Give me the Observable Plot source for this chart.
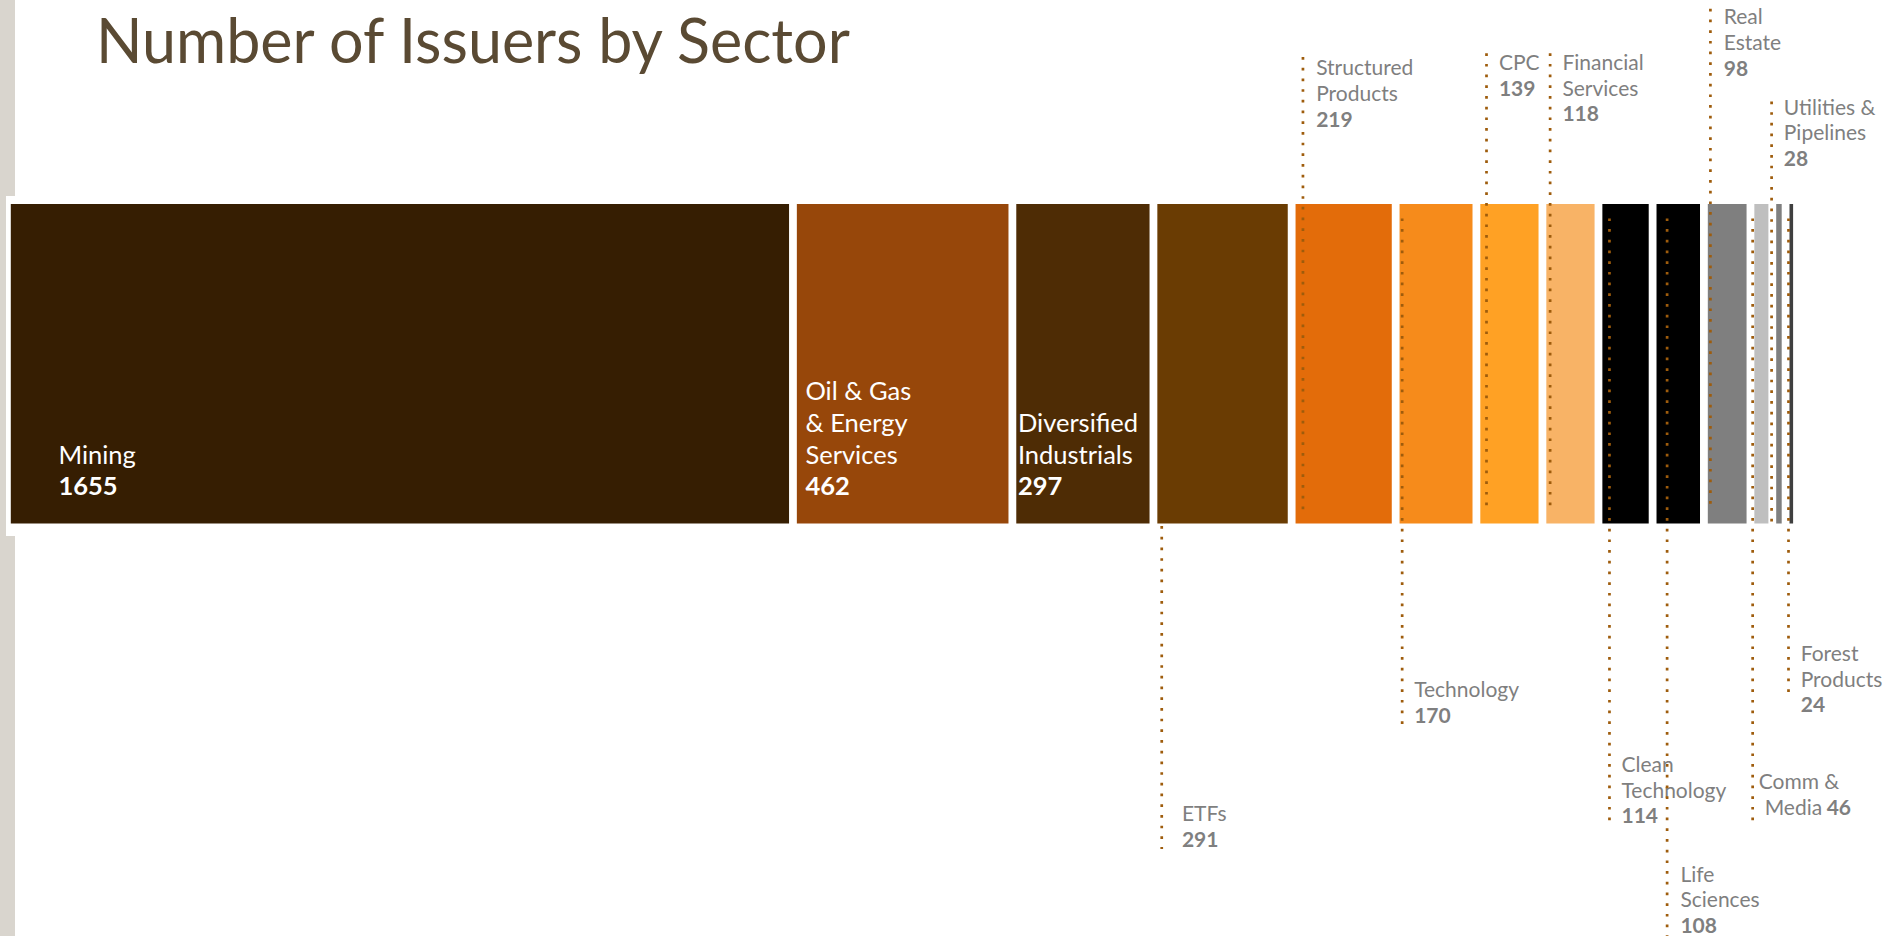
<!DOCTYPE html>
<html>
<head>
<meta charset="utf-8">
<script src="https://cdn.jsdelivr.net/npm/d3@7"></script>
<script src="https://cdn.jsdelivr.net/npm/@observablehq/plot@0.6"></script>
<style>
  html, body { margin: 0; padding: 0; background: #ffffff; }
  #wrap { position: relative; width: 1887px; height: 936px; overflow: hidden; background: #fff; }
  #strip { position: absolute; left: 0; top: 0; width: 15px; height: 936px; background: #d9d5ce; }
  #notch { position: absolute; left: 6px; top: 196px; width: 9px; height: 340px; background: #ffffff; }
  #title { position: absolute; left: 96px; top: 9px; margin: 0; font-family: Lato, "Open Sans", sans-serif; font-weight: 400;
           font-size: 61px; line-height: 1; color: #5a4a33; white-space: nowrap; }
  #chart { position: absolute; left: 0; top: 0; }
</style>
</head>
<body>
<div id="wrap">
  <div id="strip"></div>
  <div id="notch"></div>
  <div id="chart"></div>
  <h1 id="title">Number of Issuers by Sector</h1>
</div>
<script>
// ---- data ----
const sectors = ["Mining", "Oil & Gas & Energy Services", "Diversified Industrials", "ETFs", "Structured Products",
  "Technology", "CPC", "Financial Services", "Clean Technology", "Life Sciences", "Real Estate", "Comm & Media",
  "Utilities & Pipelines", "Forest Products"];
const issuers = [1655, 462, 297, 291, 219, 170, 139, 118, 114, 108, 98, 46, 28, 24];
const sectorColors = ["#361e02", "#97470a", "#4e2c05", "#6a3c03", "#e36c0a", "#f68b1b", "#ffa124", "#f8b366",
  "#000000", "#000000", "#7f7f7f", "#bfbfbf", "#7f7f7f", "#3f3f3f"];
const labelLines = [["Mining"], ["Oil & Gas", "& Energy", "Services"], ["Diversified", "Industrials"], ["ETFs"],
  ["Structured", "Products"], ["Technology"], ["CPC"], ["Financial", "Services"], ["Clean", "Technology"],
  ["Life", "Sciences"], ["Real", "Estate"], ["Comm &", "Media"], ["Utilities &", "Pipelines"], ["Forest", "Products"]];

// ---- layout (label placement, in bar-height units and px offsets) ----
const placement = ["inside", "inside", "inside", "below", "above", "below", "above", "above", "below", "below",
  "above", "below", "above", "below"];
const firstLineY = [null, null, null, 1.909, -0.426, 1.521, -0.442, -0.442, 1.755, 2.098, -0.585, 1.808, -0.302, 1.408];
const leaderY = [null, null, null, [1.008, 2.019], [-0.46, 0.962], [0.045, 1.63], [-0.472, 0.962], [-0.472, 0.962],
  [0.045, 1.943], [0.045, 3.0], [-0.611, 0.962], [0.045, 1.943], [-0.321, 1.0], [0.045, 1.547]];
const leaderDx = [0, 0, 0, 7.8, 10.8, 6, 9.6, 7.2, 10.5, 14, 6, 1.7, -1.2, 2.4];
const textDx = [51, 12, 5, 28, 24, 18, 22, 19.5, 22.5, 27.3, 19.3, 7.7, 11, 14.6];
const inlineValueDx = 62;     // "Media 46" keeps its value on the same line
const innerLine = 0.0992, outerLine = 0.0804, innerValueY = 0.885;

const total = d3.sum(issuers);
const starts = [0, ...d3.cumsum(issuers).slice(0, -1)];
const rows = sectors.map((s, i) => ({sector: s, value: issuers[i], color: sectorColors[i], start: starts[i]}));

const labelFont = "Lato, 'Open Sans', sans-serif";
const marks = [
  Plot.rectX(rows, {x: "value", y1: 0, y2: 1, fill: "color", insetLeft: 3.9, insetRight: 3.9})
];

rows.forEach((r, i) => {
  const lines = labelLines[i];
  const nameRows = [], valueRows = [];
  let fill, size, dxName = textDx[i];
  if (placement[i] === "inside") {
    fill = "#ffffff"; size = 25.5;
    lines.forEach((t, k) => nameRows.push({start: r.start, y: innerValueY - (lines.length - k) * innerLine, text: t}));
    valueRows.push({start: r.start, y: innerValueY, text: String(r.value), dx: 0});
  } else {
    fill = "#7f7f7f"; size = 21;
    marks.push(Plot.ruleX([r], {x: "start", y1: leaderY[i][0], y2: leaderY[i][1], dx: leaderDx[i],
      stroke: "#9e5c0c", strokeWidth: 2.7, strokeDasharray: "2.7 8"}));
    lines.forEach((t, k) => nameRows.push({start: r.start, y: firstLineY[i] + k * outerLine, text: t,
      extra: (r.sector === "Comm & Media" && k === 1) ? 6 : 0}));
    if (r.sector === "Comm & Media") {
      valueRows.push({start: r.start, y: firstLineY[i] + outerLine, text: String(r.value), dx: 6 + inlineValueDx});
    } else {
      valueRows.push({start: r.start, y: firstLineY[i] + lines.length * outerLine, text: String(r.value), dx: 0});
    }
  }
  const plain = nameRows.filter(d => !d.extra), shifted = nameRows.filter(d => d.extra);
  const common = {x: "start", y: "y", text: "text", fill, fontSize: size, fontFamily: labelFont, textAnchor: "start", lineAnchor: "middle"};
  marks.push(Plot.text(plain, {...common, dx: dxName}));
  if (shifted.length) marks.push(Plot.text(shifted, {...common, dx: dxName + shifted[0].extra}));
  marks.push(Plot.text(valueRows, {...common, dx: dxName + valueRows[0].dx, fontWeight: "bold"}));
});

const chart = Plot.plot({
  width: 1887,
  height: 936,
  margin: 0,
  style: {background: "transparent", overflow: "visible"},
  x: {domain: [0, total], range: [6.9, 1797], axis: null},
  y: {domain: [0, 1], range: [204, 523.5], axis: null},
  color: {type: "identity"},
  marks
});
document.getElementById("chart").appendChild(chart);
</script>
</body>
</html>
